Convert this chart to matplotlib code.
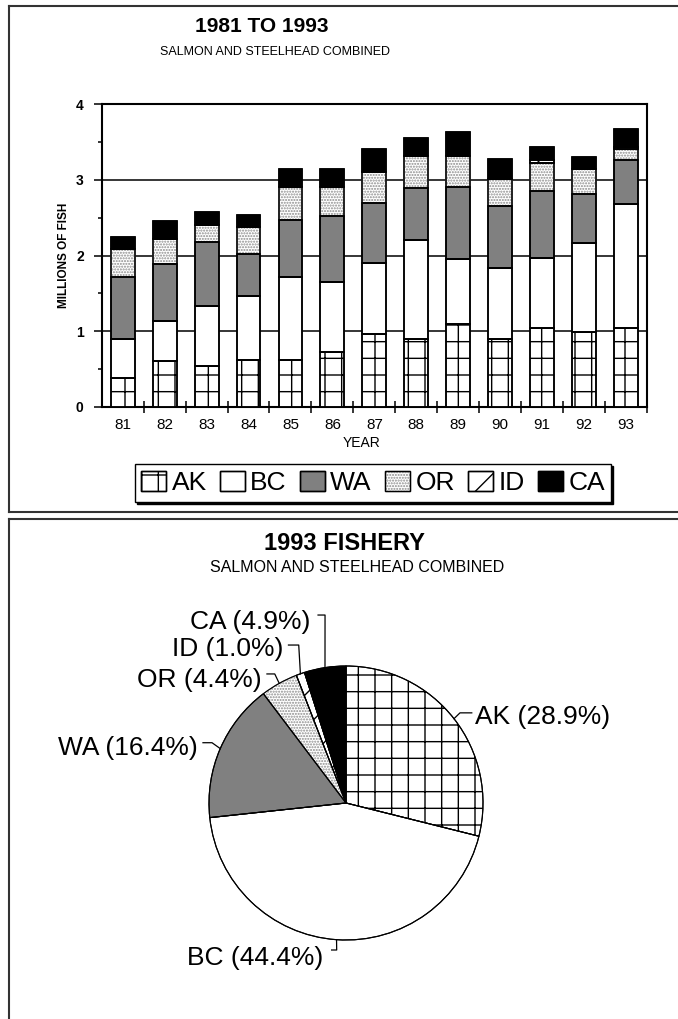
import numpy as np
import matplotlib
matplotlib.use('Agg')
import matplotlib.pyplot as plt
from matplotlib.patches import Patch, Wedge
from matplotlib.lines import Line2D

#-------------------------------------------------------------------------------
#DATA (millions of fish)

years = ['81', '82', '83', '84', '85', '86', '87', '88', '89', '90', '91', '92', '93']
regions = ['AK', 'BC', 'WA', 'OR', 'ID', 'CA']

ak = [0.38, 0.60, 0.54, 0.62, 0.62, 0.73, 0.96, 0.89, 1.10, 0.89, 1.04, 0.99, 1.04]
bc = [0.52, 0.54, 0.79, 0.84, 1.10, 0.92, 0.94, 1.31, 0.85, 0.94, 0.93, 1.18, 1.64]
wa = [0.82, 0.75, 0.85, 0.56, 0.75, 0.87, 0.80, 0.69, 0.95, 0.82, 0.88, 0.64, 0.58]
orr = [0.37, 0.33, 0.23, 0.36, 0.44, 0.39, 0.40, 0.42, 0.42, 0.36, 0.38, 0.34, 0.15]
idd = [0.00, 0.00, 0.00, 0.00, 0.00, 0.00, 0.00, 0.00, 0.00, 0.00, 0.03, 0.00, 0.025]
ca = [0.15, 0.23, 0.16, 0.15, 0.23, 0.23, 0.31, 0.25, 0.31, 0.27, 0.17, 0.15, 0.24]

#1993 shares (percent)
share_1993 = [28.9, 44.4, 16.4, 4.4, 1.0, 4.9]

#-------------------------------------------------------------------------------
#STYLE

faces = {'AK': 'white', 'BC': 'white', 'WA': '#808080', 'OR': 'white', 'ID': 'white', 'CA': 'black'}
hatches = {'AK': '+', 'BC': None, 'WA': None, 'OR': '......', 'ID': '/', 'CA': None}
#hatch colour (dots drawn grey, outline stays black)
hcols = {'AK': 'black', 'BC': 'black', 'WA': 'black', 'OR': '#8c8c8c', 'ID': 'black', 'CA': 'black'}

plt.rcParams['font.family'] = ['Liberation Sans', 'DejaVu Sans']
plt.rcParams['hatch.linewidth'] = 1.0

W, H = 678, 1019
fig = plt.figure(figsize=(W / 100, H / 100), dpi=100)

def fx(px):
    return px / W

def fy(py):
    return 1 - py / H

#panel borders
bc_ = '#333333'
for xs, ys in [((8.5, 8.5), (5.5, 511.7)), ((8.5, 678), (5.5, 5.5)), ((8.5, 678), (511.7, 511.7)),
               ((8.5, 678), (519, 519)), ((8.5, 8.5), (519, 1019))]:
    fig.add_artist(Line2D([fx(x) for x in xs], [fy(y) for y in ys], transform=fig.transFigure,
                          color=bc_, lw=1.5))

#-------------------------------------------------------------------------------
#BAR CHART

fig.text(fx(262), fy(31.7), '1981 TO 1993', ha='center', va='baseline', fontsize=15,
         fontweight='bold')
fig.text(fx(275), fy(55), 'SALMON AND STEELHEAD COMBINED', ha='center', va='baseline', fontsize=9)

x0, x1, y0, y1 = 101.7, 647, 406.7, 104.3
ax = fig.add_axes([fx(x0), fy(y0), (x1 - x0) / W, (y0 - y1) / H])

series = dict(zip(regions, [ak, bc, wa, orr, idd, ca]))
x = np.arange(len(years))
bottom = np.zeros(len(years))
for r in regions:
    v = np.array(series[r])
    ax.bar(x, v, 0.57, bottom=bottom, color=faces[r], edgecolor=hcols[r], hatch=hatches[r],
           linewidth=1.1, zorder=3)
    ax.bar(x, v, 0.57, bottom=bottom, fill=False, edgecolor='black', linewidth=1.1, zorder=4)
    bottom += v

ax.set_xlim(-0.5, 12.5)
ax.set_ylim(0, 4)
ax.set_axisbelow(True)
ax.grid(axis='y', color='black', lw=1.1)
for s in ax.spines.values():
    s.set_linewidth(1.5)

ax.set_yticks([0, 1, 2, 3, 4])
ax.set_yticks([0.5, 1.5, 2.5, 3.5], minor=True)
ax.tick_params(axis='y', which='major', length=6, width=1.1, pad=7, labelsize=10)
ax.tick_params(axis='y', which='minor', length=3, width=1.1)
for t in ax.get_yticklabels():
    t.set_fontweight('bold')

ax.set_xticks(x)
ax.set_xticklabels(years)
ax.set_xticks(np.arange(0.5, 13, 1), minor=True)
ax.tick_params(axis='x', which='major', length=0, pad=8, labelsize=11)
ax.tick_params(axis='x', which='minor', length=9, width=1.1, direction='inout')

fig.text(fx(362), fy(443), 'YEAR', ha='center', va='center', fontsize=10)
fig.text(fx(64), fy(255), 'MILLIONS OF FISH', ha='center', va='center', rotation=90,
         fontsize=8.5, fontweight='bold')

handles = [(Patch(facecolor=faces[r], edgecolor=hcols[r], hatch=hatches[r], linewidth=1.0),
            Patch(fill=False, edgecolor='black', linewidth=1.0)) for r in regions]
fig.legend(handles, regions, ncol=6, loc='center', bbox_to_anchor=(fx(373), fy(483)),
           fontsize=19, frameon=True, fancybox=False, edgecolor='black',
           shadow={'ox': 1.5, 'oy': -1.5, 'color': 'black', 'alpha': 1},
           handlelength=0.95, handleheight=0.8, handletextpad=0.2, columnspacing=0.5,
           borderpad=0.25, borderaxespad=0)

#-------------------------------------------------------------------------------
#PIE CHART

fig.text(fx(344), fy(550), '1993 FISHERY', ha='center', va='baseline', fontsize=17,
         fontweight='bold')
fig.text(fx(357), fy(572), 'SALMON AND STEELHEAD COMBINED', ha='center', va='baseline',
         fontsize=11.5)

cx, cy, rad = 346, 803, 137
xl, xr, yb, yt = -2.4, 2.4, -1.55, 1.6
ax2 = fig.add_axes([fx(cx + xl * rad), fy(cy - yb * rad), (xr - xl) * rad / W, (yt - yb) * rad / H])
wedges, _ = ax2.pie(share_1993, startangle=90, counterclock=False,
                    colors=[faces[r] for r in regions],
                    wedgeprops=dict(edgecolor='black', linewidth=0.8))
for w, r in zip(wedges, regions):
    if hatches[r]:
        w.set_hatch(hatches[r])
        w.set_edgecolor(hcols[r])
    ax2.add_patch(Wedge(w.center, w.r, w.theta1, w.theta2, fill=False, edgecolor='black',
                        linewidth=0.8, zorder=w.get_zorder() + 0.5))
ax2.set_aspect('auto')
ax2.set_xlim(xl, xr)
ax2.set_ylim(yb, yt)
ax2.axis('off')

#leader layout: knee point, stub end, text anchor, alignment
layout = {
    'AK': ((0.832, 0.658), (0.918, 0.658), (0.94, 0.63), 'left'),
    'BC': ((-0.068, -1.073), (-0.105, -1.073), (-0.165, -1.131), 'right'),
    'WA': ((-0.978, 0.44), (-1.044, 0.44), (-1.08, 0.40), 'right'),
    'OR': ((-0.52, 0.942), (-0.577, 0.942), (-0.613, 0.898), 'right'),
    'ID': ((-0.345, 1.153), (-0.42, 1.153), (-0.46, 1.124), 'right'),
    'CA': ((-0.153, 1.372), (-0.204, 1.372), (-0.263, 1.323), 'right'),
}
for w, r, p in zip(wedges, regions, share_1993):
    a = np.deg2rad((w.theta1 + w.theta2) / 2)
    px, py = np.cos(a), np.sin(a)
    knee, stub, tpos, ha = layout[r]
    ax2.plot([px, knee[0], stub[0]], [py, knee[1], stub[1]], color='black', lw=0.9)
    ax2.text(tpos[0], tpos[1], '%s (%.1f%%)' % (r, p), ha=ha, va='center', fontsize=19)

fig.savefig('out.png', dpi=100)
